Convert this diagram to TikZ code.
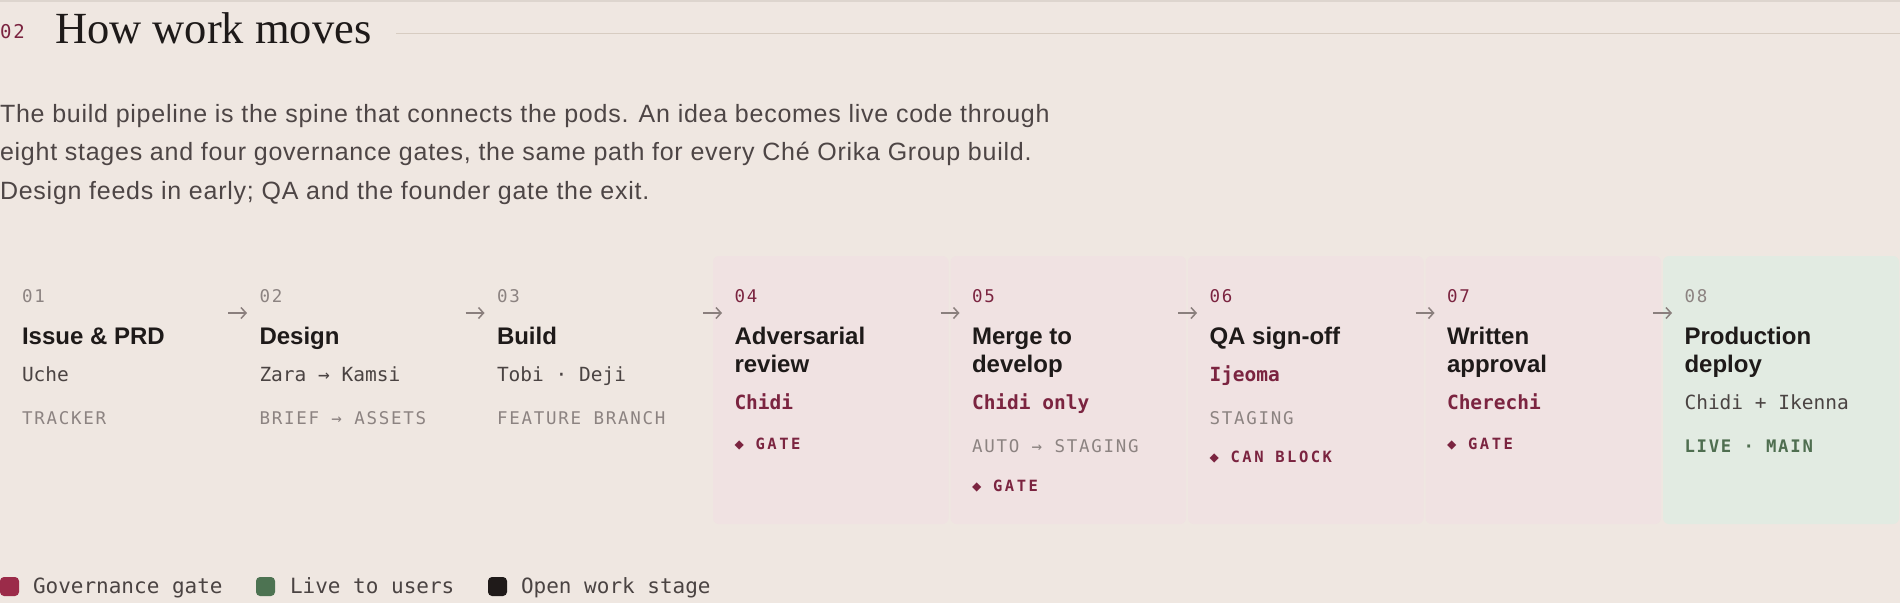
\documentclass[tikz,border=0pt]{standalone}
\usepackage{fontspec}
\usetikzlibrary{arrows.meta}

\newfontfamily\headfont{Liberation Serif}
\newfontfamily\bodyfont{Liberation Sans}
\newfontfamily\widebody{Liberation Sans}[LetterSpace=3]
\newfontfamily\codefont{DejaVu Sans Mono}
\newfontfamily\capsfont{DejaVu Sans Mono}[LetterSpace=10]
\newfontfamily\badgefont{DejaVu Sans Mono}[LetterSpace=16]

\definecolor{paper}{HTML}{EFE7E1}
\definecolor{topline}{HTML}{DDD5CE}
\definecolor{rulecol}{HTML}{D7CCC1}
\definecolor{ink}{HTML}{1E1A19}
\definecolor{bodygray}{HTML}{4D4545}
\definecolor{midgray}{HTML}{4A4342}
\definecolor{softgray}{HTML}{8C8381}
\definecolor{arrowgray}{HTML}{8A7F7D}
\definecolor{gatered}{HTML}{7B2440}
\definecolor{gatebg}{HTML}{F0E2E2}
\definecolor{livebg}{HTML}{E2EBE2}
\definecolor{livegreen}{HTML}{4F6E50}
\definecolor{gatekey}{HTML}{9B2B49}
\definecolor{livekey}{HTML}{4D7352}
\definecolor{inkkey}{HTML}{1F1A19}

\begin{document}
\begin{tikzpicture}[x=1pt, y=-1pt,
    every node/.style={inner sep=0pt, outer sep=0pt, anchor=base west},
    body/.style={font=\widebody\fontsize{25}{25}\selectfont, text=bodygray},
    num/.style={font=\capsfont\fontsize{17.5}{17.5}\selectfont, text=softgray},
    numred/.style={num, text=gatered},
    head/.style={font=\bodyfont\bfseries\fontsize{24}{24}\selectfont, text=ink},
    who/.style={font=\codefont\fontsize{19.5}{19.5}\selectfont, text=midgray},
    whored/.style={font=\codefont\bfseries\fontsize{19.5}{19.5}\selectfont, text=gatered},
    tag/.style={font=\capsfont\fontsize{17.5}{17.5}\selectfont, text=softgray},
    gatetag/.style={font=\badgefont\bfseries\fontsize{15.5}{15.5}\selectfont, text=gatered},
    livetag/.style={font=\capsfont\bfseries\fontsize{17.3}{17.3}\selectfont, text=livegreen},
    pinkcard/.style={fill=gatebg, rounded corners=6pt},
    greencard/.style={fill=livebg, rounded corners=6pt},
    flow/.style={draw=arrowgray, line width=1.5pt, -{Straight Barb[length=5pt,width=11pt]}},
    key/.style={rounded corners=4pt},
    keytext/.style={font=\codefont\fontsize{21}{21}\selectfont, text=midgray}]

    \fill[paper] (0,0) rectangle (1900,603);
    \useasboundingbox (0,0) rectangle (1900,603);
    \draw[topline, line width=1.5pt] (0,0.75) -- (1900,0.75);

    % heading
    \node[font=\capsfont\fontsize{19}{19}\selectfont, text=gatered] (secno) at (0,38.5) {02};
    \node[font=\headfont\fontsize{44.5}{44.5}\selectfont, text=ink] (sectitle) at (55,43.5) {How work moves};
    \coordinate (rulestart) at (396,33.5);
    \coordinate (ruleend) at (1900,33.5);
    \draw[rulecol, line width=1.5pt] (rulestart) -- (ruleend);

    % intro text
    \node[body] (para1) at (0,122) {The build pipeline is the spine that connects the pods. An idea becomes live code through};
    \node[body] (para2) at (0,160.5) {eight stages and four governance gates, the same path for every Ché Orika Group build.};
    \node[body] (para3) at (0,199) {Design feeds in early; QA and the founder gate the exit.};

    % cards
    \fill[pinkcard] (713,256) rectangle (948.5,524);
    \fill[pinkcard] (950.5,256) rectangle (1186,524);
    \fill[pinkcard] (1188,256) rectangle (1423.5,524);
    \fill[pinkcard] (1425.5,256) rectangle (1661,524);
    \fill[greencard] (1663,256) rectangle (1899,524);

    % stages
    \node[num] (n1) at (22,302) {01};
    \node[head] (t1) at (22,344) {Issue \& PRD};
    \node[who] (w1) at (22,381) {Uche};
    \node[tag] (g1) at (22,424) {TRACKER};

    \node[num] (n2) at (259.5,302) {02};
    \node[head] (t2) at (259.5,344) {Design};
    \node[who] (w2) at (259.5,381) {Zara → Kamsi};
    \node[tag] (g2) at (259.5,424) {BRIEF → ASSETS};

    \node[num] (n3) at (497,302) {03};
    \node[head] (t3) at (497,344) {Build};
    \node[who] (w3) at (497,381) {Tobi · Deji};
    \node[tag] (g3) at (497,424) {FEATURE BRANCH};

    \node[numred] (n4) at (734.5,302) {04};
    \node[head] (t4a) at (734.5,344) {Adversarial};
    \node[head] (t4b) at (734.5,372) {review};
    \node[whored] (w4) at (734.5,409.5) {Chidi};
    \node[gatetag] (g4) at (734.5,449.5) {◆ GATE};

    \node[numred] (n5) at (972,302) {05};
    \node[head] (t5a) at (972,344) {Merge to};
    \node[head] (t5b) at (972,372) {develop};
    \node[whored] (w5) at (972,409.5) {Chidi only};
    \node[tag] (g5) at (972,452.5) {AUTO → STAGING};
    \node[gatetag] (x5) at (972,491.5) {◆ GATE};

    \node[numred] (n6) at (1209.5,302) {06};
    \node[head] (t6) at (1209.5,344) {QA sign-off};
    \node[whored] (w6) at (1209.5,381) {Ijeoma};
    \node[tag] (g6) at (1209.5,424) {STAGING};
    \node[gatetag] (x6) at (1209.5,462.5) {◆ CAN BLOCK};

    \node[numred] (n7) at (1447,302) {07};
    \node[head] (t7a) at (1447,344) {Written};
    \node[head] (t7b) at (1447,372) {approval};
    \node[whored] (w7) at (1447,409.5) {Cherechi};
    \node[gatetag] (g7) at (1447,449.5) {◆ GATE};

    \node[num] (n8) at (1684.5,302) {08};
    \node[head] (t8a) at (1684.5,344) {Production};
    \node[head] (t8b) at (1684.5,372) {deploy};
    \node[who] (w8) at (1684.5,409.5) {Chidi + Ikenna};
    \node[livetag] (g8) at (1684.5,452.5) {LIVE · MAIN};

    % arrows between stages
    \coordinate (a1s) at (228,313);    \coordinate (a1e) at (247,313);
    \coordinate (a2s) at (465.5,313);  \coordinate (a2e) at (484.5,313);
    \coordinate (a3s) at (703,313);    \coordinate (a3e) at (722,313);
    \coordinate (a4s) at (940.5,313);  \coordinate (a4e) at (959.5,313);
    \coordinate (a5s) at (1178,313);   \coordinate (a5e) at (1197,313);
    \coordinate (a6s) at (1415.5,313); \coordinate (a6e) at (1434.5,313);
    \coordinate (a7s) at (1653,313);   \coordinate (a7e) at (1672,313);
    \draw[flow] (a1s) -- (a1e);
    \draw[flow] (a2s) -- (a2e);
    \draw[flow] (a3s) -- (a3e);
    \draw[flow] (a4s) -- (a4e);
    \draw[flow] (a5s) -- (a5e);
    \draw[flow] (a6s) -- (a6e);
    \draw[flow] (a7s) -- (a7e);

    % legend
    \fill[gatekey, key] (0,577) rectangle (19,596);
    \node[keytext] (k1) at (33,593) {Governance gate};
    \fill[livekey, key] (256,577) rectangle (275,596);
    \node[keytext] (k2) at (290,593) {Live to users};
    \fill[inkkey, key] (488,577) rectangle (507,596);
    \node[keytext] (k3) at (521,593) {Open work stage};
\end{tikzpicture}
\end{document}
